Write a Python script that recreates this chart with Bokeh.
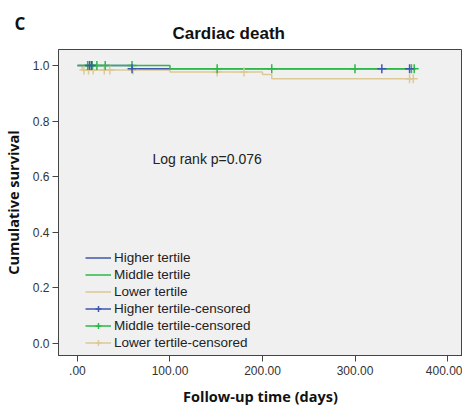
from bokeh.plotting import figure
from bokeh.models import (Range1d, FixedTicker, Label, Legend, LegendItem, Title)
from bokeh.embed import file_html
from bokeh.resources import INLINE

# ---- data ----
higher_t = [0, 59, 359]
higher_s = [1.0, 0.988, 0.988]
middle_t = [0, 100, 364]
middle_s = [1.0, 0.988, 0.988]
lower_t = [0, 5, 100, 200, 210, 363]
lower_s = [1.0, 0.984, 0.977, 0.968, 0.952, 0.952]

higher_cens_t = [13, 15, 59, 329, 359]
higher_cens_s = [1.0, 1.0, 0.988, 0.988, 0.988]
middle_cens_t = [11, 16, 21, 30, 59, 151, 210, 300, 361, 364]
middle_cens_s = [1.0, 1.0, 1.0, 1.0, 1.0, 0.988, 0.988, 0.988, 0.988, 0.988]
lower_cens_t = [7, 12, 17, 29, 35, 60, 151, 180, 359, 363]
lower_cens_s = [0.984, 0.984, 0.984, 0.984, 0.984, 0.984, 0.977, 0.977, 0.952, 0.952]

x_ticks = [0, 100, 200, 300, 400]
x_tick_labels = [".00", "100.00", "200.00", "300.00", "400.00"]
y_ticks = [0.0, 0.2, 0.4, 0.6, 0.8, 1.0]
y_tick_labels = ["0.0", "0.2", "0.4", "0.6", "0.8", "1.0"]

BLUE = "#3E58AC"
GREEN = "#2EB848"
TAN = "#DCC996"

p = figure(width=462, height=408, output_backend="svg", toolbar_location=None,
           x_range=Range1d(-20.5, 416.2), y_range=Range1d(-0.043, 1.0576),
           min_border_left=58, min_border_top=49, min_border_right=0, min_border_bottom=53,
           background_fill_color="#F0F0F0", border_fill_color="white")
p.outline_line_color = "#444444"
p.outline_line_width = 1
p.xgrid.visible = False
p.ygrid.visible = False

for ax in (p.xaxis[0], p.yaxis[0]):
    ax.major_tick_out = 6
    ax.major_tick_in = 0
    ax.minor_tick_out = 0
    ax.minor_tick_in = 0
    ax.axis_line_color = "#444444"
    ax.major_tick_line_color = "#444444"
    ax.major_label_text_font = "Liberation Sans"
    ax.major_label_text_font_size = "12px"
    ax.major_label_text_color = "#333333"
    ax.axis_label_text_font = "Open Sans"
    ax.axis_label_text_font_size = "14.5px"
    ax.axis_label_text_font_style = "bold"
    ax.axis_label_text_color = "#111111"

p.xaxis.ticker = FixedTicker(ticks=x_ticks)
p.xaxis.major_label_overrides = {t: l for t, l in zip(x_ticks, x_tick_labels)}
p.xaxis.axis_label = "Follow-up time (days)"
p.xaxis.major_label_standoff = 4
p.xaxis.axis_label_standoff = 9
p.yaxis.ticker = FixedTicker(ticks=y_ticks)
p.yaxis.major_label_overrides = {t: l for t, l in zip(y_ticks, y_tick_labels)}
p.yaxis.axis_label = "Cumulative survival"
p.yaxis.major_label_standoff = 3
p.yaxis.axis_label_standoff = 7

r_low = p.step(lower_t, lower_s, mode="after", line_color=TAN, line_width=1.5)
r_high = p.step(higher_t, higher_s, mode="after", line_color=BLUE, line_width=1.5)
r_mid = p.step(middle_t, middle_s, mode="after", line_color=GREEN, line_width=1.5)

c_low = p.scatter(lower_cens_t, lower_cens_s, marker="cross", size=9,
                  line_color=TAN, line_width=1.5)
c_mid = p.scatter(middle_cens_t, middle_cens_s, marker="cross", size=9,
                  line_color=GREEN, line_width=1.5)
c_high = p.scatter(higher_cens_t, higher_cens_s, marker="cross", size=9,
                   line_color=BLUE, line_width=1.5)

# legend-only line renderers (placed off the visible range) for censored icons
off_x = [-1000, -999]
off_y = [-5, -5]
l_high = p.line(off_x, off_y, line_color=BLUE, line_width=1.5)
l_mid = p.line(off_x, off_y, line_color=GREEN, line_width=1.5)
l_low = p.line(off_x, off_y, line_color=TAN, line_width=1.5)

legend = Legend(items=[
    LegendItem(label="Higher tertile", renderers=[r_high]),
    LegendItem(label="Middle tertile", renderers=[r_mid]),
    LegendItem(label="Lower tertile", renderers=[r_low]),
    LegendItem(label="Higher tertile-censored", renderers=[l_high, c_high]),
    LegendItem(label="Middle tertile-censored", renderers=[l_mid, c_mid]),
    LegendItem(label="Lower tertile-censored", renderers=[l_low, c_low]),
], location=(27, 5))
legend.background_fill_alpha = 0
legend.border_line_alpha = 0
legend.padding = 0
legend.margin = 0
legend.spacing = 2
legend.glyph_width = 26
legend.glyph_height = 15
legend.label_height = 15
legend.label_standoff = 3
legend.label_text_font = "Liberation Sans"
legend.label_text_font_size = "13.5px"
legend.label_text_color = "#222222"
p.add_layout(legend, "center")

p.add_layout(Label(x=81, y=0.665, text="Log rank p=0.076", text_font="Liberation Sans",
                   text_font_size="14px", text_color="#222222", text_baseline="middle"))

t_main = Title(text="Cardiac death", align="left", offset=114, standoff=14,
               text_font="Liberation Sans", text_font_size="17px", text_font_style="bold",
               text_color="#111111")
t_c = Title(text="C", align="left", offset=-44, standoff=-40,
            text_font="Open Sans", text_font_size="17px", text_font_style="bold",
            text_color="#111111")
p.add_layout(t_main, "above")
p.add_layout(t_c, "above")

open("out.html", "w").write(file_html(p, INLINE))
